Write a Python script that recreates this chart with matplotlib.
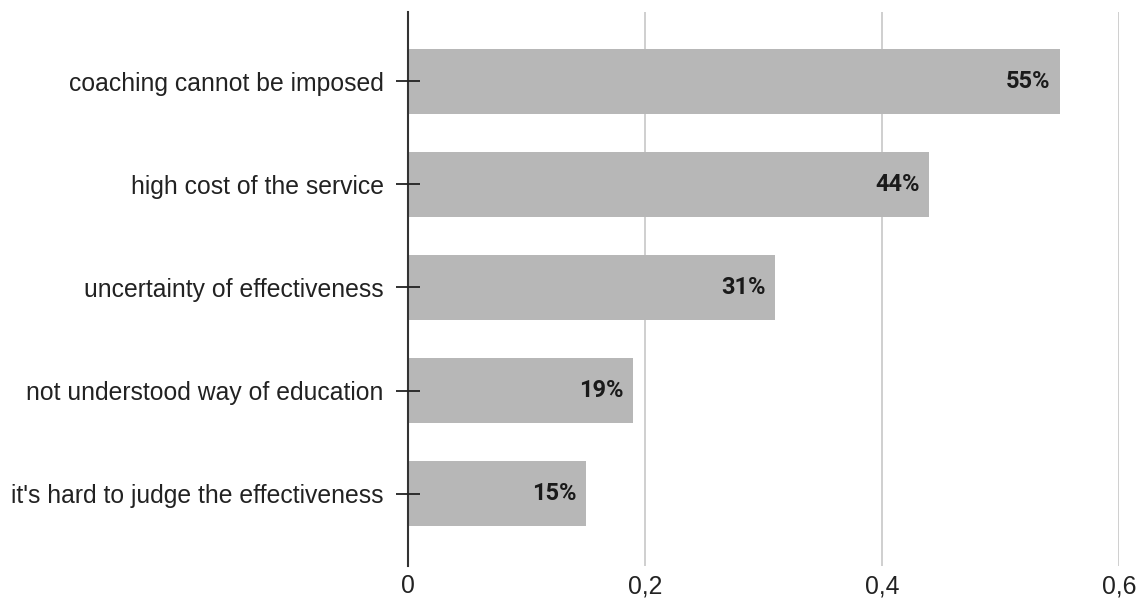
import matplotlib
matplotlib.use("Agg")
import matplotlib.pyplot as plt
from matplotlib.ticker import FuncFormatter

categories = [
    "coaching cannot be imposed",
    "high cost of the service",
    "uncertainty of effectiveness",
    "not understood way of education",
    "it's hard to judge the effectiveness",
]
values = [0.55, 0.44, 0.31, 0.19, 0.15]
labels = ["55%", "44%", "31%", "19%", "15%"]
xticks = [0, 0.2, 0.4, 0.6]

BAR_COLOR = "#b7b7b7"
AXIS_COLOR = "#333333"
GRID_COLOR = "#cccccc"

fig = plt.figure(figsize=(11.42, 6), dpi=100)
ax = fig.add_axes([408 / 1142, 34 / 600, (1119 - 408) / 1142, (566 - 12) / 600])

pos = list(range(len(categories)))
ax.barh(pos, values, height=0.63, color=BAR_COLOR, zorder=2)

# value labels, right aligned inside the bar end
for p, v, lab in zip(pos, values, labels):
    ax.text(v - 0.008, p, lab, ha="right", va="center", fontsize=17,
            fontweight="bold", family="Roboto", color="#1a1a1a", zorder=3)

# vertical grid behind the bars
for x in xticks[1:]:
    ax.axvline(x, color=GRID_COLOR, linewidth=1.3, zorder=0)

ax.set_xlim(0, 0.6)
ax.set_ylim(4.7, -0.67)
ax.set_xticks(xticks)
ax.xaxis.set_major_formatter(FuncFormatter(lambda x, _: ("%g" % x).replace(".", ",")))
ax.set_yticks(pos)
ax.set_yticklabels(categories)
ax.set_axisbelow(False)

for t in ax.get_yticklabels() + ax.get_xticklabels():
    t.set_family("Liberation Sans")
    t.set_fontsize(17.8)
    t.set_color("#222222")

ax.tick_params(axis="y", direction="inout", length=17, width=1.3, color="#222222", pad=9)
ax.tick_params(axis="x", length=0, pad=6)

for s in ["top", "right", "bottom"]:
    ax.spines[s].set_visible(False)
ax.spines["left"].set_color(AXIS_COLOR)
ax.spines["left"].set_linewidth(1.5)

fig.savefig("out.png", dpi=100)
